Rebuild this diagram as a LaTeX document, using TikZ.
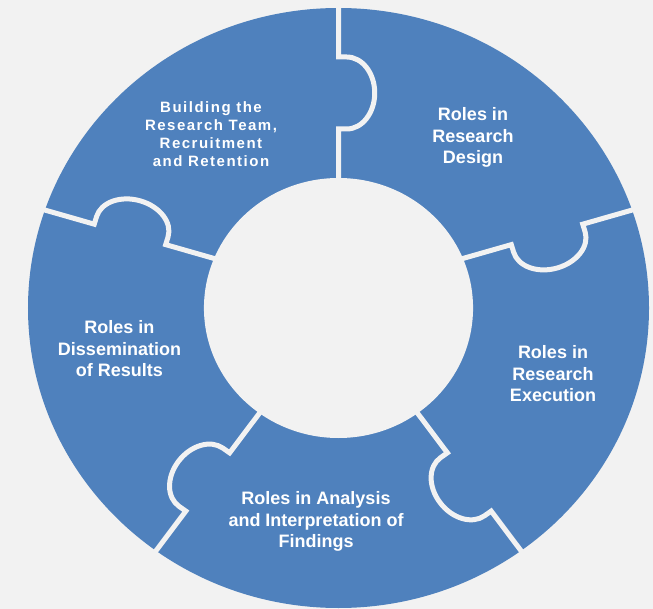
\documentclass[tikz,border=0pt]{standalone}
\usepackage{fontspec}
\setmainfont{Liberation Sans}
\newfontfamily\spacedfont[LetterSpace=10]{Liberation Sans}
\definecolor{bg}{HTML}{F2F2F2}
\definecolor{piece}{HTML}{4F81BD}
\begin{document}
\begin{tikzpicture}[x=1pt,y=1pt,
  cut/.style={draw=bg, line width=5pt},
  lbl/.style={text=white, font=\bfseries\fontsize{18}{21.5}\selectfont, align=center, inner sep=0pt},
  smalllbl/.style={text=white, font=\spacedfont\bfseries\fontsize{15}{18}\selectfont, align=center, inner sep=0pt}]
\fill[bg] (0,0) rectangle (653,-609);
\path[use as bounding box] (0,0) rectangle (653,-609);
\begin{scope}[shift={(338.5,-308)}, xscale=1.035]
  \fill[piece] (0,0) circle[radius=300];
  \fill[bg] (0,0) circle[radius=130];
  \foreach \px/\py/\ang/\len in {0/130/90/170, 120.8/49.7/16.5/168.3, 76.4/-105.2/-54/170, -76.4/-105.2/-126/170, -120.8/49.7/163.5/168.3} {
    \begin{scope}[shift={(\px,\py)}, rotate=\ang]
      \draw[cut] (-6,0) -- ({\len/2-36},0) -- ++(0,-8)
        arc[start angle=180, end angle=360, x radius=36, y radius=27]
        -- ({\len/2+36},0) -- ({\len+8},0);
    \end{scope}
  }
\end{scope}
\node[smalllbl] (building) at (211,-134) {Building the\\Research Team,\\Recruitment\\and Retention};
\node[lbl] (design) at (473,-137.6) {Roles in\\Research\\Design};
\node[lbl] (execution) at (553,-374) {Roles in\\Research\\Execution};
\node[lbl] (analysis) at (316,-521.5) {Roles in Analysis\\and Interpretation of\\Findings};
\node[lbl] (dissem) at (119.5,-349) {Roles in\\Dissemination\\of Results};
\end{tikzpicture}
\end{document}
